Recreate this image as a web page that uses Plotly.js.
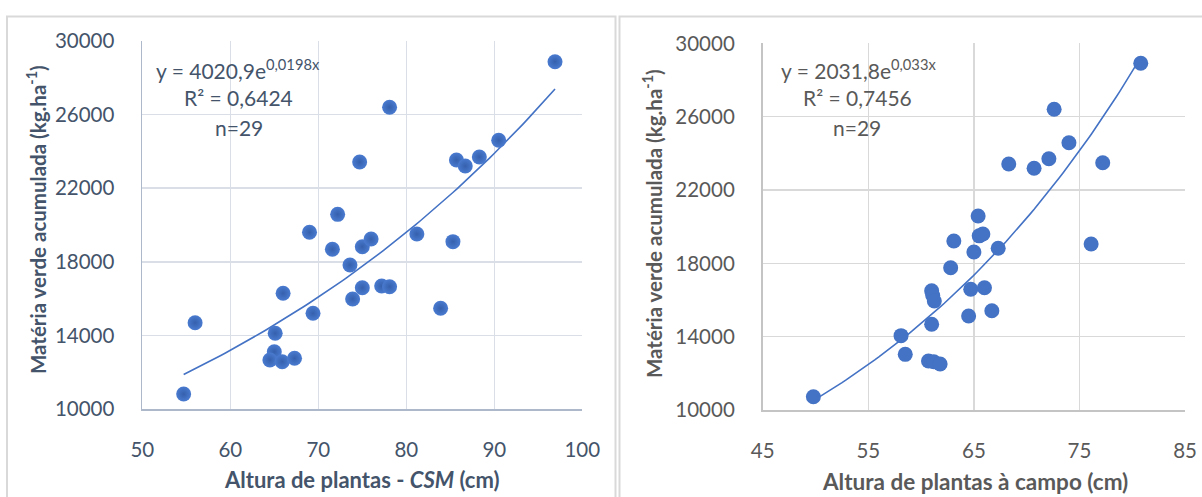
<!DOCTYPE html>
<html>
<head>
<meta charset="utf-8">
<script src="https://cdn.plot.ly/plotly-3.0.1.min.js"></script>
<style>html,body{margin:0;padding:0;background:#fff;}#chart{width:1202px;height:497px;}</style>
</head>
<body>
<div id="chart"></div>
<script>
// Left panel: Altura de plantas - CSM (cm)
const csmX = [54.7, 56.0, 65.1, 65.0, 64.5, 65.9, 67.3, 66.0, 69.4, 69.0, 72.2, 71.6, 75.0, 76.0, 73.6, 75.0, 73.9, 77.2, 78.1, 96.9, 78.1, 74.7, 85.7, 86.7, 88.3, 90.5, 81.2, 85.3, 83.9];
const csmY = [10815, 14690, 14114, 13114, 12663, 12571, 12755, 16288, 15201, 19603, 20580, 18679, 18821, 19239, 17826, 16592, 15978, 16685, 16647, 28875, 26397, 23424, 23533, 23206, 23696, 24603, 19511, 19094, 15473];
// Right panel: Altura de plantas à campo (cm)
const campoX = [49.8, 58.1, 58.5, 60.7, 61.2, 61.8, 61.0, 61.0, 61.1, 61.25, 64.5, 66.7, 64.7, 66.0, 62.8, 65.0, 67.3, 63.1, 65.5, 65.85, 65.4, 80.8, 72.6, 74.0, 68.3, 70.7, 72.1, 77.2, 76.1];
const campoY = [10726, 14055, 13037, 12673, 12635, 12509, 14675, 16500, 16250, 15950, 15128, 15417, 16585, 16672, 17763, 18620, 18821, 19220, 19500, 19600, 20584, 28914, 26404, 24583, 23421, 23186, 23711, 23492, 19056];
// Trendline equations shown on the chart (y = a·e^(b·x))
const csmFit = {a: 4020.9, b: 0.0198};
const campoFit = {a: 2031.8, b: 0.033};
const yTicks = [10000, 14000, 18000, 22000, 26000, 30000];
const csmXTicks = [50, 60, 70, 80, 90, 100];
const campoXTicks = [45, 55, 65, 75, 85];
const labels = {
  csmX: 'Altura de plantas - <i>CSM</i> (cm)',
  campoX: 'Altura de plantas à campo (cm)',
  y: 'Matéria verde acumulada (kg.ha<sup>-1</sup>)',
  csmEq: 'y = 4020,9e<sup>0,0198x</sup>',
  csmR2: 'R² = 0,6424',
  campoEq: 'y = 2031,8e<sup>0,033x</sup>',
  campoR2: 'R² = 0,7456',
  n: 'n=29'
};

function fitLine(xs, fit) {
  const lo = Math.min(...xs), hi = Math.max(...xs);
  const px = [], py = [];
  const N = 80;
  for (let i = 0; i <= N; i++) {
    const x = lo + (hi - lo) * i / N;
    px.push(x); py.push(fit.a * Math.exp(fit.b * x));
  }
  return {px, py};
}
const f1 = fitLine(csmX, csmFit);
const f2 = fitLine(campoX, campoFit);

const W = 1202, H = 497;
const px = v => v / W, py = v => 1 - v / H;
const FONT = 'Lato, "Open Sans", sans-serif';
const c1 = '#44546A', c2 = '#595959';

const traces = [
  {x: f1.px, y: f1.py, xaxis: 'x', yaxis: 'y', mode: 'lines', line: {color: '#4472C4', width: 1.6}, hoverinfo: 'skip'},
  {x: csmX, y: csmY, xaxis: 'x', yaxis: 'y', mode: 'markers',
   marker: {size: 15, color: '#4a7bd0', gradient: {type: 'radial', color: '#3560ad'}, line: {width: 0}}},
  {x: f2.px, y: f2.py, xaxis: 'x2', yaxis: 'y2', mode: 'lines', line: {color: '#4472C4', width: 1.6}, hoverinfo: 'skip'},
  {x: campoX, y: campoY, xaxis: 'x2', yaxis: 'y2', mode: 'markers',
   marker: {size: 15, color: '#4472C4', line: {width: 0}}}
];

function xa(dom, range, ticks, col, grid, line) {
  return {domain: dom, range: range, tickvals: ticks, ticktext: ticks.map(String), showgrid: true, gridcolor: grid, gridwidth: 1.5,
    showline: true, linecolor: line, linewidth: 1.8, zeroline: false, ticks: '', ticklabelstandoff: 22,
    tickfont: {family: FONT, size: 20.5, color: col}, fixedrange: true};
}
function ya(dom, ticks, col, grid, line, anchor) {
  return {domain: dom, range: [10000, 30000], tickvals: ticks, ticktext: ticks.map(String), showgrid: true, gridcolor: grid, gridwidth: 1.5,
    showline: true, linecolor: line, linewidth: 1.8, zeroline: false, ticks: '', ticklabelstandoff: 22,
    tickfont: {family: FONT, size: 20.5, color: col}, anchor: anchor, fixedrange: true};
}
function ann(x, y, text, col, size, bold, angle) {
  const a = {xref: 'paper', yref: 'paper', x: px(x), y: py(y), xanchor: 'center', yanchor: 'middle', text: text, showarrow: false,
    font: {family: FONT, size: size, color: col, weight: bold ? 'bold' : 'normal'}};
  if (angle) a.textangle = angle;
  return a;
}

const layout = {
  width: W, height: H,
  margin: {l: 0, r: 0, t: 0, b: 0},
  paper_bgcolor: '#ffffff', plot_bgcolor: '#ffffff',
  showlegend: false,
  xaxis: xa([px(142.3), px(582.3)], [50, 100], csmXTicks, c1, '#dadfe7', '#adb9ca'),
  yaxis: ya([py(409), py(41)], yTicks, c1, '#dadfe7', '#adb9ca', 'x'),
  xaxis2: Object.assign(xa([px(762.7), px(1185.1)], [45, 85], campoXTicks, c2, '#d9d9d9', '#c4c4c4'), {anchor: 'y2'}),
  yaxis2: ya([py(410), py(43.4)], yTicks, c2, '#d9d9d9', '#c4c4c4', 'x2'),
  shapes: [
    {type: 'rect', xref: 'paper', yref: 'paper', x0: px(7), x1: px(615.5), y0: py(520), y1: py(16.5), line: {color: '#d9d9d9', width: 2}, fillcolor: 'rgba(0,0,0,0)', layer: 'below'},
    {type: 'rect', xref: 'paper', yref: 'paper', x0: px(619.5), x1: px(1230), y0: py(520), y1: py(16.5), line: {color: '#d9d9d9', width: 2}, fillcolor: 'rgba(0,0,0,0)', layer: 'below'}
  ],
  annotations: [
    ann(362, 479, labels.csmX, c1, 22, true),
    ann(36, 220, labels.y, c1, 20.5, true, -90),
    ann(238, 69, labels.csmEq, c1, 21),
    ann(238, 98, labels.csmR2, c1, 21),
    ann(239, 127, labels.n, c1, 21),
    ann(975, 481, labels.campoX, c2, 22.5, true),
    ann(652, 224, labels.y, c2, 20.5, true, -90),
    ann(858, 69, labels.campoEq, c2, 21),
    ann(857, 98, labels.campoR2, c2, 21),
    ann(857, 127, labels.n, c2, 21)
  ]
};

Plotly.newPlot('chart', traces, layout, {displayModeBar: false, staticPlot: true});
</script>
</body>
</html>
